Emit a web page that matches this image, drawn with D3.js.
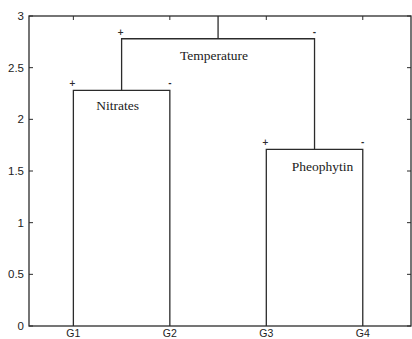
<!DOCTYPE html>
<html>
<head>
<meta charset="utf-8">
<script src="https://cdn.jsdelivr.net/npm/d3@7"></script>
<style>
  body { margin: 0; background: #fff; }
  svg { display: block; }
</style>
</head>
<body>
<div id="chart"></div>
<script>
// leaves of the tree, left to right
const leaves = ["G1", "G2", "G3", "G4"];

// merges: name, left child, right child, height
const mergeNames = ["Nitrates", "Pheophytin", "Temperature"];
const mergeLeft = ["G1", "G3", "Nitrates"];
const mergeRight = ["G2", "G4", "Pheophytin"];
const mergeHeights = [2.28, 1.71, 2.78];
const rootTop = 3;

const yTicks = [0, 0.5, 1, 1.5, 2, 2.5, 3];

const W = 412, H = 339;
const mLeft = 29, mRight = 411, mTop = 16, mBottom = 326;
const ink = "#2b2b2b";

const svg = d3.select("#chart").append("svg")
    .attr("width", W)
    .attr("height", H);

const x = d3.scaleLinear().domain([0.54, 4.5]).range([mLeft, mRight]);
const y = d3.scaleLinear().domain([0, 3]).range([mBottom, mTop]);

// node positions
const pos = {};
leaves.forEach((d, i) => { pos[d] = { x: i + 1, h: 0 }; });
mergeNames.forEach((d, i) => {
    pos[d] = {
        x: (pos[mergeLeft[i]].x + pos[mergeRight[i]].x) / 2,
        h: mergeHeights[i]
    };
});

const g = svg.append("g");

// the U shaped links
mergeNames.forEach((d, i) => {
    const a = pos[mergeLeft[i]], b = pos[mergeRight[i]], h = mergeHeights[i];
    g.append("path")
        .attr("d", `M${x(a.x)},${y(a.h)}V${y(h)}H${x(b.x)}V${y(b.h)}`)
        .attr("fill", "none")
        .attr("stroke", ink)
        .attr("stroke-width", 1.3);
});

// root stem
const root = pos[mergeNames[mergeNames.length - 1]];
g.append("line")
    .attr("x1", x(root.x)).attr("x2", x(root.x))
    .attr("y1", y(root.h)).attr("y2", y(rootTop))
    .attr("stroke", ink)
    .attr("stroke-width", 1.3);

// + and - marks above each branch end
mergeNames.forEach((d, i) => {
    const h = mergeHeights[i];
    g.append("text")
        .attr("x", x(pos[mergeLeft[i]].x) - 1)
        .attr("y", y(h) - 4)
        .attr("text-anchor", "middle")
        .style("font-family", "DejaVu Sans, sans-serif")
        .style("font-size", "8px")
        .style("font-weight", "bold")
        .attr("fill", ink)
        .text("+");
    g.append("text")
        .attr("x", x(pos[mergeRight[i]].x))
        .attr("y", y(h) - 4)
        .attr("text-anchor", "middle")
        .style("font-family", "DejaVu Sans, sans-serif")
        .style("font-size", "8px")
        .style("font-weight", "bold")
        .attr("fill", ink)
        .text("-");
});

// branch labels
const labelDx = [-4, 8, -4];
const labelDy = [20, 22, 21];
mergeNames.forEach((d, i) => {
    g.append("text")
        .attr("x", x(pos[d].x) + labelDx[i])
        .attr("y", y(mergeHeights[i]) + labelDy[i])
        .attr("text-anchor", "middle")
        .style("font-family", "Liberation Serif, serif")
        .style("font-size", "13.5px")
        .attr("fill", "#1a1a1a")
        .text(d);
});

// frame
svg.append("rect")
    .attr("x", mLeft).attr("y", mTop)
    .attr("width", mRight - mLeft).attr("height", mBottom - mTop)
    .attr("fill", "none")
    .attr("stroke", ink)
    .attr("stroke-width", 1.3);

// y ticks, inward on both sides
const yAxis = svg.append("g");
yTicks.forEach(t => {
    yAxis.append("line")
        .attr("x1", mLeft).attr("x2", mLeft + 4)
        .attr("y1", y(t)).attr("y2", y(t))
        .attr("stroke", ink);
    yAxis.append("line")
        .attr("x1", mRight - 4).attr("x2", mRight)
        .attr("y1", y(t)).attr("y2", y(t))
        .attr("stroke", ink);
    yAxis.append("text")
        .attr("x", mLeft - 5)
        .attr("y", y(t))
        .attr("dy", "0.35em")
        .attr("text-anchor", "end")
        .style("font-family", "Liberation Sans, Arial, sans-serif")
        .style("font-size", "11.5px")
        .attr("fill", "#222")
        .text(t);
});

// x ticks and labels
const xAxis = svg.append("g");
leaves.forEach((d, i) => {
    xAxis.append("line")
        .attr("x1", x(i + 1)).attr("x2", x(i + 1))
        .attr("y1", mTop).attr("y2", mTop + 4)
        .attr("stroke", ink);
    xAxis.append("text")
        .attr("x", x(i + 1))
        .attr("y", mBottom + 11)
        .attr("text-anchor", "middle")
        .style("font-family", "Liberation Sans, Arial, sans-serif")
        .style("font-size", "10.5px")
        .attr("fill", "#222")
        .text(d);
});
</script>
</body>
</html>
